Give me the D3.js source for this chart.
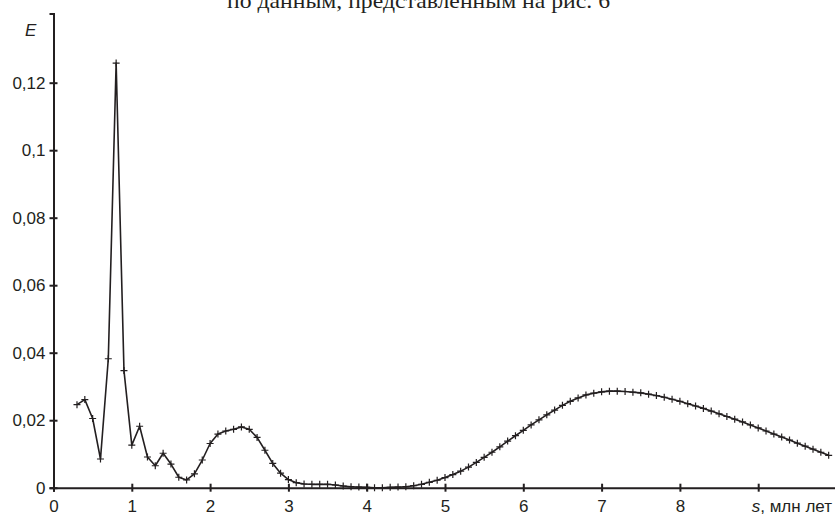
<!DOCTYPE html>
<html>
<head>
<meta charset="utf-8">
<script src="https://cdn.jsdelivr.net/npm/d3@7"></script>
<style>
  body { margin: 0; background: #fff; }
  svg { display: block; }
  .axis text { font-family: "Liberation Sans", Arial, sans-serif; font-size: 17px; fill: #231f20; }
  .axis path, .axis line { stroke: #231f20; stroke-width: 2; }
</style>
</head>
<body>
<script>
// s, млн лет
const sValues = [
  0.3, 0.4, 0.5, 0.6, 0.7, 0.8, 0.9, 1.0, 1.1, 1.2, 1.3, 1.4, 1.5, 1.6, 1.7, 1.8, 1.9,
  2.0, 2.1, 2.2, 2.3, 2.4, 2.5, 2.6, 2.7, 2.8, 2.9, 3.0, 3.1, 3.2, 3.3, 3.4, 3.5, 3.6,
  3.7, 3.8, 3.9, 4.0, 4.1, 4.2, 4.3, 4.4, 4.5, 4.6, 4.7, 4.8, 4.9, 5.0, 5.1, 5.2, 5.3,
  5.4, 5.5, 5.6, 5.7, 5.8, 5.9, 6.0, 6.1, 6.2, 6.3, 6.4, 6.5, 6.6, 6.7, 6.8, 6.9, 7.0,
  7.1, 7.2, 7.3, 7.4, 7.5, 7.6, 7.7, 7.8, 7.9, 8.0, 8.1, 8.2, 8.3, 8.4, 8.5, 8.6, 8.7,
  8.8, 8.9, 9.0, 9.1, 9.2, 9.3, 9.4, 9.5, 9.6, 9.7, 9.8, 9.9
];
// E
const eValues = [
  0.0246, 0.0261, 0.0205, 0.0085, 0.0382, 0.1258, 0.0347, 0.0126, 0.0182, 0.0091, 0.0065, 0.0102, 0.0070, 0.0031, 0.0023, 0.0041, 0.0082,
  0.0131, 0.0159, 0.0168, 0.0173, 0.0180, 0.0173, 0.0149, 0.0111, 0.0072, 0.0043, 0.0024, 0.0015, 0.0011, 0.0010, 0.0010, 0.0010, 0.0008,
  0.0005, 0.0003, 0.0002, 0.0001, 0.0000, 0.0000, 0.0001, 0.0002, 0.0003, 0.0006, 0.0010, 0.0016, 0.0022, 0.0030, 0.0039, 0.0049, 0.0061,
  0.0075, 0.0090, 0.0105, 0.0121, 0.0138, 0.0154, 0.0170, 0.0186, 0.0201, 0.0216, 0.0230, 0.0244, 0.0256, 0.0266, 0.0275, 0.0280, 0.0284,
  0.0286, 0.0286, 0.0285, 0.0283, 0.0281, 0.0277, 0.0273, 0.0268, 0.0262, 0.0256, 0.0249, 0.0242, 0.0235, 0.0227, 0.0219, 0.0211, 0.0203,
  0.0195, 0.0186, 0.0177, 0.0168, 0.0159, 0.0150, 0.0141, 0.0132, 0.0123, 0.0114, 0.0105, 0.0096
];

const xTicks = [0, 1, 2, 3, 4, 5, 6, 7, 8, 9];
const yTicks = [0, 0.02, 0.04, 0.06, 0.08, 0.1, 0.12];

const data = sValues.map((s, i) => ({s: s, e: eValues[i]}));

const width = 835, height = 516;

const svg = d3.select("body").append("svg")
  .attr("width", width)
  .attr("height", height);

const scaleX = d3.scaleLinear()
  .domain([0, 10])
  .range([53.5, 836.5]);

const scaleY = d3.scaleLinear()
  .domain([0, 0.1405])
  .range([487.7, 13.5]);

// caption line cut off at the top of the page
svg.append("text")
  .attr("x", 227)
  .attr("y", 8)
  .attr("textLength", 383)
  .attr("lengthAdjust", "spacingAndGlyphs")
  .style("font-family", "'Liberation Serif', 'Times New Roman', serif")
  .style("font-size", "22px")
  .style("fill", "#231f20")
  .text("по данным, представленным на рис. 6");

const xAxis = d3.axisBottom(scaleX)
  .tickValues(xTicks)
  .tickSizeOuter(0)
  .tickSize(4)
  .tickPadding(10)
  .tickFormat(d => d === 9 ? "" : d);

const yAxis = d3.axisLeft(scaleY)
  .tickValues(yTicks)
  .tickSizeOuter(0)
  .tickSize(4)
  .tickPadding(5)
  .tickFormat(d => d3.format("~g")(d).replace(".", ","));

const gx = svg.append("g")
  .attr("class", "x axis")
  .attr("transform", `translate(0, ${scaleY(0)})`)
  .call(xAxis);
gx.selectAll(".tick line").attr("y1", -4).attr("y2", 4);
gx.selectAll(".tick text").attr("y", 12).attr("dy", "0.71em");

const gy = svg.append("g")
  .attr("class", "y axis")
  .attr("transform", `translate(${scaleX(0)}, 0)`)
  .call(yAxis);
gy.selectAll(".tick line").attr("x1", -4).attr("x2", 4);
gy.selectAll(".tick text").attr("x", -8);

// axis titles
svg.append("text")
  .attr("x", 25)
  .attr("y", 36)
  .style("font-family", "'Liberation Sans', Arial, sans-serif")
  .style("font-size", "17px")
  .style("font-style", "italic")
  .style("fill", "#231f20")
  .text("E");

const xLabel = svg.append("text")
  .attr("x", 832)
  .attr("y", 512)
  .attr("text-anchor", "end")
  .style("font-family", "'Liberation Sans', Arial, sans-serif")
  .style("font-size", "17px")
  .style("fill", "#231f20");
xLabel.append("tspan").style("font-style", "italic").text("s");
xLabel.append("tspan").text(", млн лет");

const line = d3.line()
  .x(d => scaleX(d.s))
  .y(d => scaleY(d.e));

svg.append("path")
  .datum(data)
  .attr("fill", "none")
  .attr("stroke", "#231f20")
  .attr("stroke-width", 1.6)
  .attr("stroke-linejoin", "round")
  .attr("d", line);

svg.selectAll(".mark")
  .data(data)
  .enter()
  .append("path")
  .attr("class", "mark")
  .attr("transform", d => `translate(${scaleX(d.s)}, ${scaleY(d.e)})`)
  .attr("d", "M-3.5,0H3.5M0,-3.5V3.5")
  .attr("stroke", "#231f20")
  .attr("stroke-width", 1.2)
  .attr("fill", "none");
</script>
</body>
</html>
